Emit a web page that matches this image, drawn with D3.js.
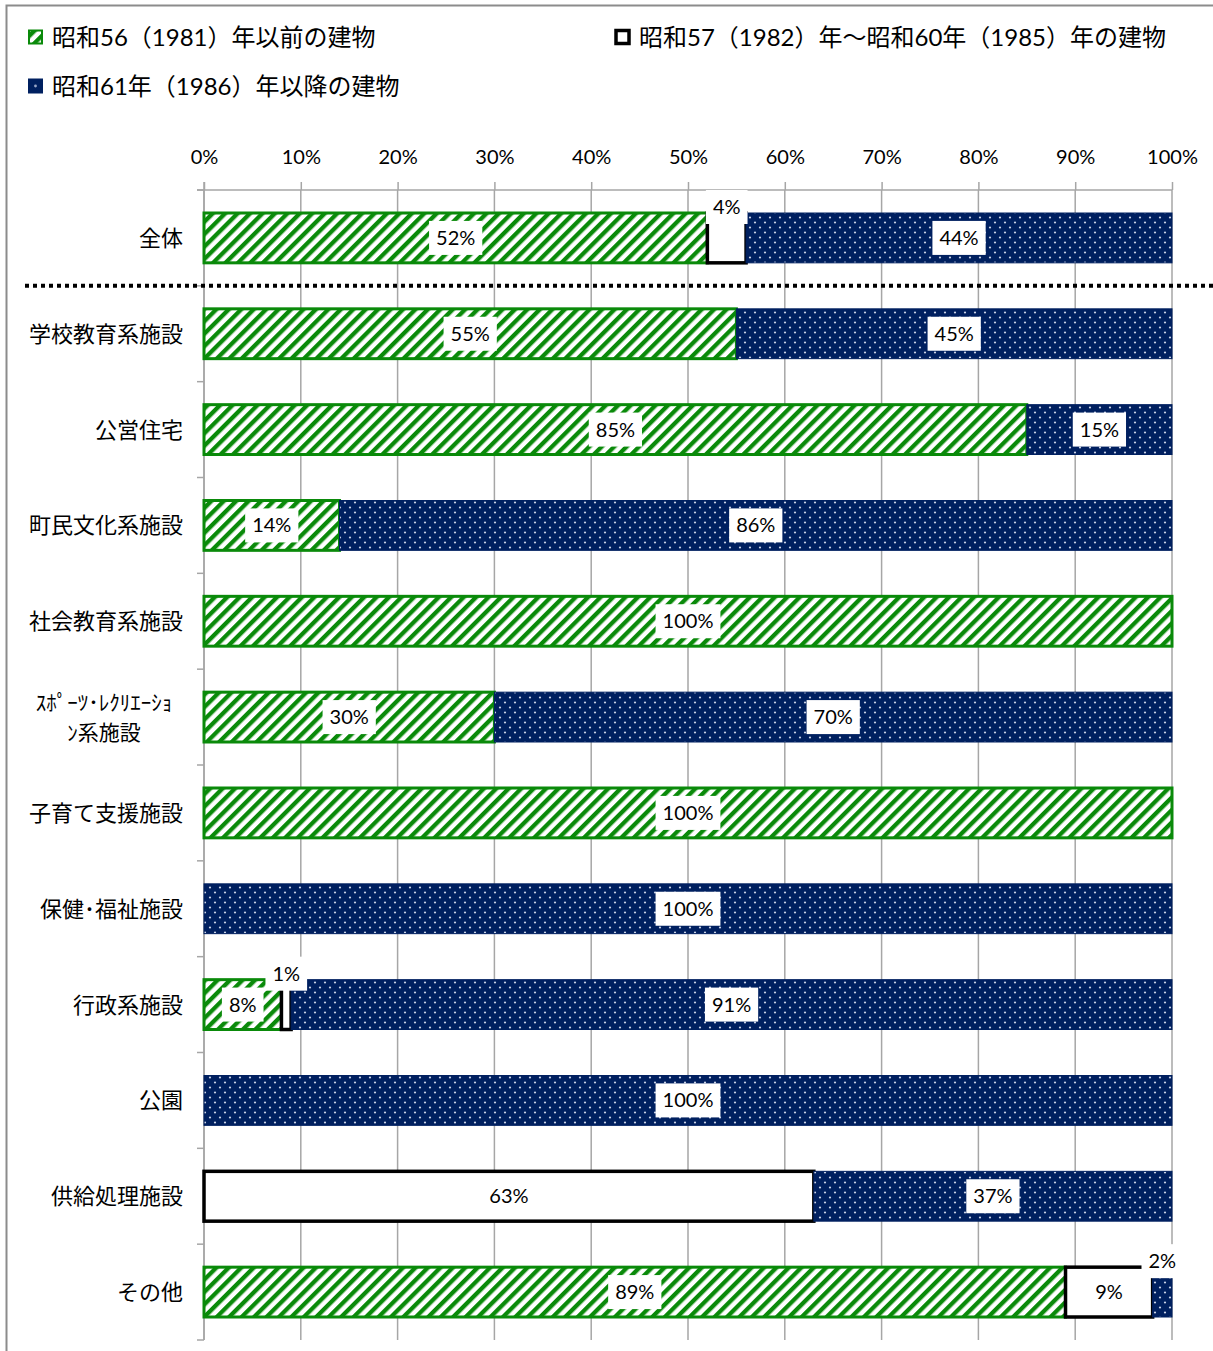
<!DOCTYPE html>
<html>
<head>
<meta charset="utf-8">
<script src="https://cdn.jsdelivr.net/npm/d3@7"></script>
<style>
  html, body { margin: 0; padding: 0; background: #fff; }
  svg { display: block; font-family: "Lato", "Noto Sans CJK JP", sans-serif; }
</style>
</head>
<body>
<svg id="chart" width="1213" height="1351"></svg>
<script>
// Building construction period by facility type (share of floor area, %)
const categories = [
  "全体", "学校教育系施設", "公営住宅", "町民文化系施設", "社会教育系施設",
  "ｽﾎﾟｰﾂ･ﾚｸﾘｴｰｼｮ\nﾝ系施設", "子育て支援施設", "保健･福祉施設", "行政系施設",
  "公園", "供給処理施設", "その他"
];
const seriesNames = [
  "昭和56（1981）年以前の建物",
  "昭和57（1982）年～昭和60年（1985）年の建物",
  "昭和61年（1986）年以降の建物"
];
const before1981 = [52, 55, 85, 14, 100, 30, 100, 0, 8, 0, 0, 89];
const from1982to1985 = [4, 0, 0, 0, 0, 0, 0, 0, 1, 0, 63, 9];
const after1986 = [44, 45, 15, 86, 0, 70, 0, 100, 91, 100, 37, 2];
const tickValues = [0, 10, 20, 30, 40, 50, 60, 70, 80, 90, 100];

const GREEN = "#0a8a0a", NAVY = "#002060";

const svg = d3.select("#chart");
const defs = svg.append("defs");

// diagonal green hatch
const hatch = defs.append("pattern")
  .attr("id", "hatch").attr("patternUnits", "userSpaceOnUse")
  .attr("width", 8.8).attr("height", 8.8)
  .attr("patternTransform", "rotate(45)");
hatch.append("rect").attr("width", 8.8).attr("height", 8.8).attr("fill", "#fff");
hatch.append("rect").attr("width", 4.3).attr("height", 8.8).attr("fill", GREEN);

// navy with small light dots
const dots = defs.append("pattern")
  .attr("id", "dots").attr("patternUnits", "userSpaceOnUse")
  .attr("width", 10).attr("height", 10);
dots.append("rect").attr("width", 10).attr("height", 10).attr("fill", NAVY);
[[5, 2.5], [0, 7.5], [10, 7.5]].forEach(([cx, cy]) =>
  dots.append("circle").attr("cx", cx).attr("cy", cy).attr("r", 1.1).attr("fill", "#c9d2e6"));

// outer frame
svg.append("rect").attr("x", 6.5).attr("y", 5.5).attr("width", 1300).attr("height", 1400)
  .attr("fill", "none").attr("stroke", "#8c8c8c").attr("stroke-width", 2);

const x = d3.scaleLinear().domain([0, 100]).range([204, 1172]);
const y = d3.scaleBand().domain(categories).range([190, 1340])
  .paddingInner(0.48).paddingOuter(0.24);
const step = y.step();
const yTop = y.range()[0], yBottom = y.range()[1];

// vertical gridlines
svg.append("g").selectAll("line").data(tickValues).join("line")
  .attr("x1", d => x(d)).attr("x2", d => x(d))
  .attr("y1", yTop).attr("y2", yBottom)
  .attr("stroke", "#a6a6a6").attr("stroke-width", 1.5);

// top value axis
const xAxis = svg.append("g").attr("transform", `translate(0,${yTop})`)
  .call(d3.axisTop(x).tickValues(tickValues).tickFormat(d => d + "%").tickSize(8).tickSizeOuter(0));
xAxis.select(".domain").remove();
xAxis.selectAll(".tick line").attr("stroke", "#a6a6a6").attr("stroke-width", 1.5);
xAxis.selectAll(".tick text").attr("font-size", 20).attr("fill", "#000")
  .attr("font-family", "Lato, 'Noto Sans CJK JP', sans-serif").attr("y", -26).attr("dy", 0);
svg.append("line").attr("x1", 197).attr("x2", x(100)).attr("y1", yTop).attr("y2", yTop)
  .attr("stroke", "#a6a6a6").attr("stroke-width", 1.5);

// left category axis with ticks on band boundaries
svg.append("line").attr("x1", x(0)).attr("x2", x(0)).attr("y1", yTop - 8).attr("y2", yBottom)
  .attr("stroke", "#a6a6a6").attr("stroke-width", 1.5);
svg.append("g").selectAll("line").data(d3.range(categories.length + 1)).join("line")
  .attr("x1", 197).attr("x2", x(0))
  .attr("y1", i => yTop + i * step).attr("y2", i => yTop + i * step)
  .attr("stroke", "#a6a6a6").attr("stroke-width", 1.5);

// category labels (wrapped labels are centred, single lines right-aligned)
const catG = svg.append("g");
categories.forEach(c => {
  const lines = c.split("\n");
  const cy = y(c) + y.bandwidth() / 2;
  const multi = lines.length > 1;
  const lx = multi ? 104 : 183;
  lines.forEach((ln, i) => {
    catG.append("text")
      .attr("font-size", multi ? 21 : 22).attr("fill", "#000")
      .attr("font-family", "'Noto Sans CJK JP', sans-serif")
      .attr("text-anchor", multi ? "middle" : "end")
      .attr("x", lx)
      .attr("y", cy + (i - (lines.length - 1) / 2) * 30 + 8)
      .text(ln);
  });
});

// stacked segments
const table = categories.map((c, i) => ({
  cat: c, a: before1981[i], b: from1982to1985[i], c: after1986[i]
}));
const stack = d3.stack().keys(["a", "b", "c"])(table);
const styles = {
  a: { fill: "url(#hatch)", stroke: GREEN, sw: 3 },
  b: { fill: "#fff", stroke: "#000", sw: 3.5 },
  c: { fill: "url(#dots)", stroke: NAVY, sw: 1 }
};
const barG = svg.append("g");
stack.forEach(layer => {
  const st = styles[layer.key];
  barG.append("g").selectAll("rect")
    .data(layer.filter(d => d[1] - d[0] > 0)).join("rect")
    .attr("x", d => x(d[0])).attr("width", d => x(d[1]) - x(d[0]))
    .attr("y", d => y(d.data.cat)).attr("height", y.bandwidth())
    .attr("fill", st.fill).attr("stroke", st.stroke).attr("stroke-width", st.sw);
});

// dotted separator below the overall row
const sepY = y(categories[1]) - step * y.paddingInner() / 2;
svg.append("line").attr("x1", 25).attr("x2", 1213).attr("y1", sepY).attr("y2", sepY)
  .attr("stroke", "#000").attr("stroke-width", 4).attr("stroke-dasharray", "4 4");

// value labels on white boxes
const labG = svg.append("g");
stack.forEach(layer => {
  layer.forEach(d => {
    const v = d[1] - d[0];
    if (v <= 0) return;
    const cx = x((d[0] + d[1]) / 2);
    const small = v < 5;
    const cy = small ? y(d.data.cat) - 6 : y(d.data.cat) + y.bandwidth() / 2;
    const g = labG.append("g");
    const rect = g.append("rect").attr("fill", "#fff");
    const t = g.append("text").attr("x", cx).attr("y", cy + 7)
      .attr("text-anchor", "middle").attr("font-size", 20).attr("fill", "#000")
      .text(v + "%");
    const w = t.node().getComputedTextLength();
    rect.attr("x", cx - w / 2 - 7).attr("width", w + 14)
      .attr("y", cy - 17).attr("height", 34);
  });
});

// legend
const legend = [
  { name: seriesNames[0], key: "a", x: 29, y: 38 },
  { name: seriesNames[1], key: "b", x: 616, y: 38 },
  { name: seriesNames[2], key: "c", x: 29, y: 87 }
];
const legG = svg.append("g");
legend.forEach(l => {
  const st = styles[l.key];
  const s = 13;
  legG.append("rect").attr("x", l.x).attr("y", l.y - s / 2 - 1).attr("width", s).attr("height", s)
    .attr("fill", l.key === "a" ? "url(#hatch)" : l.key === "c" ? NAVY : "#fff")
    .attr("stroke", st.stroke).attr("stroke-width", l.key === "b" ? 3.5 : 2);
  if (l.key === "c") {
    legG.append("circle").attr("cx", l.x + s / 2).attr("cy", l.y - 1).attr("r", 1.4).attr("fill", "#9aa8c8");
  }
  legG.append("text").attr("x", l.x + 23).attr("y", l.y + 8)
    .attr("font-size", 24).attr("fill", "#000").text(l.name);
});
</script>
</body>
</html>
